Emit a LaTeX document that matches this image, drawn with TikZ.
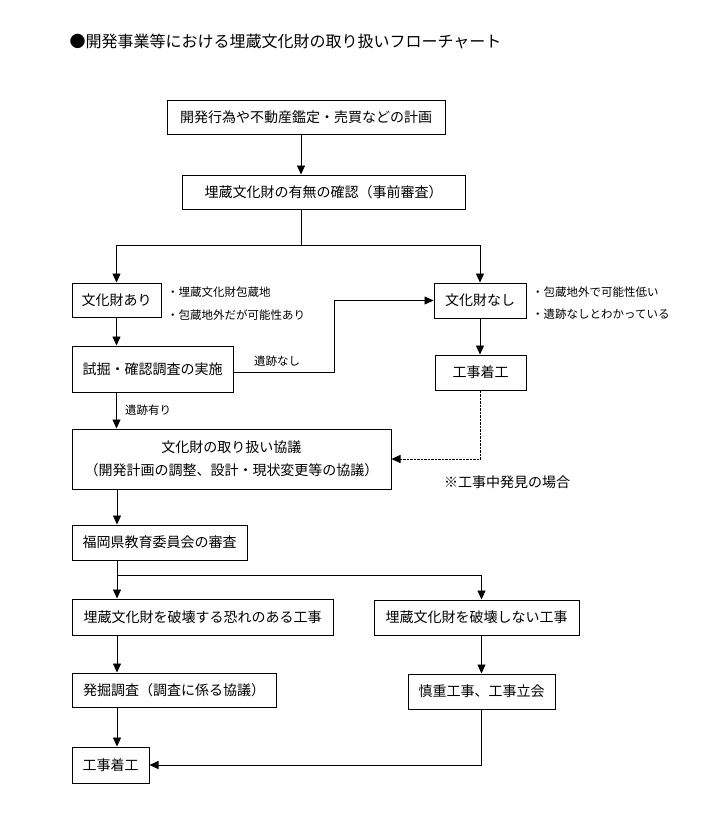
\documentclass[tikz,border=0pt]{standalone}
\usepackage{fontspec}
\setmainfont{Noto Sans CJK JP}
\usepackage{tikz}
\usetikzlibrary{arrows.meta, positioning}

\begin{document}
\begin{tikzpicture}[x=1pt,y=-1pt,>={Triangle[length=9pt,width=8pt]}]
        \useasboundingbox (0,0) rectangle (703,825);
        \node[anchor=west,font=\fontsize{16pt}{18pt}\selectfont] (title) at (66,41) {●開発事業等における埋蔵文化財の取り扱いフローチャート};
        \begin{scope}[every node/.style={draw,line width=1pt,inner sep=0pt,align=center,font=\fontsize{14pt}{23pt}\selectfont}]
          \node[minimum width=278,minimum height=34] (plan) at (306,117) {開発行為や不動産鑑定・売買などの計画};
          \node[minimum width=283,minimum height=34] (check) at (323.5,192) {埋蔵文化財の有無の確認（事前審査）};
          \node[minimum width=89,minimum height=34] (ari) at (116.5,300) {文化財あり};
          \node[minimum width=92,minimum height=35] (nashi) at (480,300.5) {文化財なし};
          \node[minimum width=161,minimum height=46] (shikutsu) at (152.5,369) {試掘・確認調査の実施};
          \node[minimum width=91,minimum height=35] (chakko1) at (480.5,372.5) {工事着工};
          \node[minimum width=319,minimum height=60] (kyogi) at (231.5,459) {文化財の取り扱い協議\\（開発計画の調整、設計・現状変更等の協議）};
          \node[minimum width=175,minimum height=35] (fukuoka) at (159.5,542.5) {福岡県教育委員会の審査};
          \node[minimum width=261,minimum height=36] (hakai) at (202.5,617) {埋蔵文化財を破壊する恐れのある工事};
          \node[minimum width=205,minimum height=35] (shinai) at (476.5,617.5) {埋蔵文化財を破壊しない工事};
          \node[minimum width=204,minimum height=34] (hakkutsu) at (174,690) {発掘調査（調査に係る協議）};
          \node[minimum width=147,minimum height=35] (shincho) at (481.5,691.5) {慎重工事、工事立会};
          \node[minimum width=77,minimum height=36] (chakko2) at (110.5,765) {工事着工};
        \end{scope}
        \begin{scope}[every node/.style={anchor=west,inner sep=0pt,font=\fontsize{11.5pt}{13pt}\selectfont}]
          \node (ari1) at (167,292) {・埋蔵文化財包蔵地};
          \node (ari2) at (167,315) {・包蔵地外だが可能性あり};
          \node (nashi1) at (532,292) {・包蔵地外で可能性低い};
          \node (nashi2) at (532,314) {・遺跡なしとわかっている};
          \node (nolab) at (254,361) {遺跡なし};
          \node (yulab) at (125,410) {遺跡有り};
        \end{scope}
        \node[anchor=west,inner sep=0pt,font=\fontsize{14pt}{16pt}\selectfont] (note) at (444,482) {※工事中発見の場合};
        \coordinate (split1) at (301,245);
        \coordinate (split2) at (117,575);
        \begin{scope}[line width=0.8pt]
          \draw[->] ([xshift=-5pt]plan.south) -- ([xshift=-5pt]plan.south |- check.north);
          \draw (split1 |- check.south) -- (split1);
          \draw[->] (split1) -| (ari.north);
          \draw[->] (split1) -| (nashi.north);
          \draw[->] (ari.south) -- (ari.south |- shikutsu.north);
          \draw[->] ([yshift=-3pt]shikutsu.east) -- ++(101,0) |- (nashi.west);
          \draw[->] (nashi.south) -- (nashi.south |- chakko1.north);
          \draw[->] (ari.south |- shikutsu.south) -- (ari.south |- kyogi.north);
          \draw[->,dash pattern=on 2.5pt off 1pt] (chakko1.south) |- (kyogi.east);
          \draw[->] (split2 |- kyogi.south) -- (split2 |- fukuoka.north);
          \draw (split2 |- fukuoka.south) -- (split2);
          \draw[->] (split2) -- (split2 |- hakai.north);
          \draw[->] (split2) -| (shincho.north |- shinai.north);
          \draw[->] (split2 |- hakai.south) -- (split2 |- hakkutsu.north);
          \draw[->] (shincho.north |- shinai.south) -- (shincho.north);
          \draw[->] (split2 |- hakkutsu.south) -- (split2 |- chakko2.north);
          \draw[->] (shincho.south) |- (chakko2.east);
        \end{scope}
      \end{tikzpicture}
\end{document}
